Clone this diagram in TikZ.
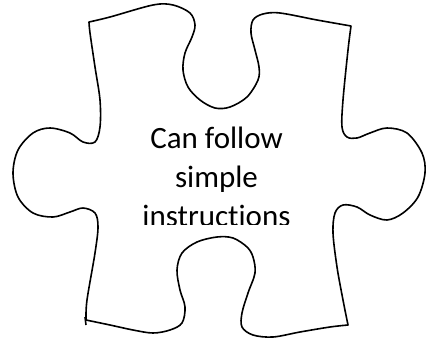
\documentclass[tikz,border=0pt]{standalone}
\usepackage{fontspec}
\setmainfont{Carlito}[Ligatures=NoCommon]
\usetikzlibrary{positioning}

\begin{document}
\begin{tikzpicture}[
    x=1pt, y=-1pt,
    piece/.style={draw, line width=1.6pt, line join=round},
    caption/.style={align=center, inner sep=0pt,
                    font=\fontsize{31}{39}\selectfont}
]
  \useasboundingbox (0,0) rectangle (431,345);

  % puzzle piece outline
  \draw[piece]
    plot[smooth, tension=0.55] coordinates {(89,22) (110,17) (153,5) (173,5) (190,13) (195,25)
      (192,37) (185,53) (183,70) (188,87) (200,100) (215,108) (230,107) (247,97) (258,80)
      (259,67) (255,50) (251,33) (253,20) (263,14) (280,13) (317,20) (351,26)}
    -- plot[smooth, tension=0.55] coordinates {(351,26) (348,50) (343,100) (342,127) (347,137)
      (357,138) (370,133) (387,128) (407,133) (422,153) (425,173) (418,197) (403,213)
      (387,220) (370,215) (357,207) (343,205) (335,213) (333,233) (337,267) (343,300) (348,325)}
    -- plot[smooth, tension=0.55] coordinates {(348,325) (330,327) (300,332) (273,337)
      (253,335) (242,327) (242,313) (248,293) (255,273) (253,257) (247,247) (233,238)
      (217,237) (197,242) (182,253) (177,270) (180,290) (185,307) (182,323) (170,330)
      (153,333) (133,330) (110,325) (86,320)}
    -- plot[smooth, tension=0.55] coordinates {(86,320) (87,300) (95,253) (98,227) (95,213)
      (83,208) (70,212) (53,217) (33,213) (18,197) (13,173) (18,150) (33,133) (50,128)
      (70,133) (83,142) (95,142) (100,127) (100,100) (95,67) (90,33) (89,22)}
    -- cycle;
  \draw[piece] (85,317) -- (86,325);

  % text, cut off below
  \begin{scope}
    \clip (100,100) rectangle (330,224);
    \node[caption, anchor=base] (skill) at (216.5,226) {Can follow\\simple\\instructions};
  \end{scope}
\end{tikzpicture}
\end{document}
